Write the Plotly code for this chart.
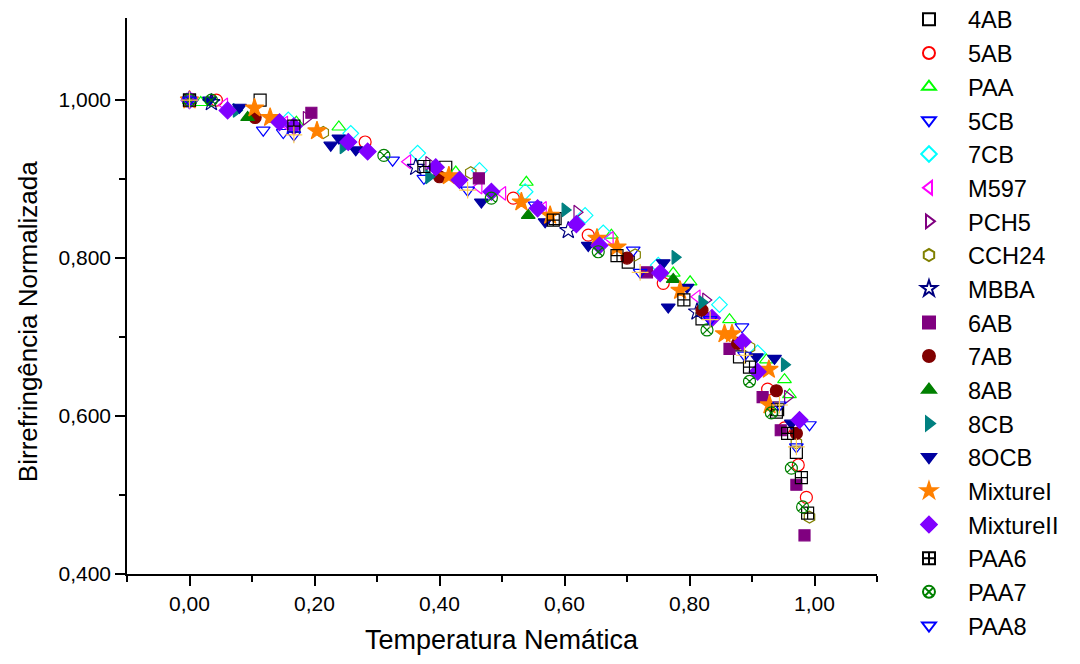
import plotly.graph_objects as go

# ---------------- data ----------------
names = ["4AB", "5AB", "PAA", "5CB", "7CB", "M597", "PCH5", "CCH24", "MBBA",
         "6AB", "7AB", "8AB", "8CB", "8OCB", "MixtureI", "MixtureII",
         "PAA6", "PAA7", "PAA8"]

x_4AB = [0.0, 0.113, 0.410, 0.585, 0.702, 0.820, 0.880, 0.939, 0.971]
y_4AB = [1.0, 1.000, 0.915, 0.850, 0.795, 0.723, 0.675, 0.605, 0.554]

x_5AB = [0.0, 0.043, 0.281, 0.518, 0.638, 0.758, 0.925, 0.952, 0.974, 0.987]
y_5AB = [1.0, 1.000, 0.947, 0.876, 0.829, 0.768, 0.634, 0.585, 0.538, 0.497]

x_PAA = [0.0, 0.018, 0.171, 0.239, 0.426, 0.539, 0.675, 0.774, 0.801, 0.864, 0.923, 0.952, 0.960]
y_PAA = [1.0, 0.997, 0.972, 0.966, 0.909, 0.896, 0.829, 0.781, 0.770, 0.722, 0.671, 0.646, 0.627]

x_5CB = [0.0, 0.118, 0.150, 0.325, 0.375, 0.553, 0.710, 0.884, 0.992]
y_5CB = [1.0, 0.962, 0.959, 0.924, 0.901, 0.867, 0.810, 0.713, 0.589]

x_7CB = [0.0, 0.158, 0.258, 0.365, 0.464, 0.537, 0.633, 0.662, 0.750, 0.848, 0.909]
y_7CB = [1.0, 0.975, 0.958, 0.933, 0.911, 0.884, 0.854, 0.832, 0.791, 0.741, 0.680]

x_M597 = [0.0, 0.056, 0.152, 0.349, 0.463, 0.501, 0.566, 0.673, 0.812]
y_M597 = [1.0, 0.994, 0.971, 0.922, 0.890, 0.882, 0.863, 0.825, 0.751]

x_PCH5 = [0.0, 0.187, 0.383, 0.620, 0.826, 0.957]
y_PCH5 = [1.0, 0.977, 0.920, 0.858, 0.747, 0.624]

x_CCH24 = [0.0, 0.214, 0.450, 0.713, 0.896, 0.971, 0.992]
y_CCH24 = [1.0, 0.959, 0.908, 0.804, 0.687, 0.566, 0.472]

x_MBBA = [0.0, 0.035, 0.362, 0.606, 0.812]
y_MBBA = [1.0, 0.997, 0.915, 0.835, 0.732]

x_6AB = [0.0, 0.195, 0.463, 0.732, 0.864, 0.917, 0.946, 0.971, 0.984]
y_6AB = [1.0, 0.984, 0.901, 0.782, 0.685, 0.624, 0.582, 0.513, 0.449]

x_7AB = [0.0, 0.105, 0.400, 0.700, 0.820, 0.877, 0.939, 0.971]
y_7AB = [1.0, 0.978, 0.903, 0.800, 0.734, 0.692, 0.632, 0.578]

x_8AB = [0.0, 0.093, 0.542, 0.774]
y_8AB = [1.0, 0.978, 0.854, 0.773]

x_8CB = [0.0, 0.075, 0.246, 0.383, 0.601, 0.777, 0.820, 0.952]
y_8CB = [1.0, 0.987, 0.941, 0.903, 0.861, 0.801, 0.744, 0.665]

x_8OCB = [0.032, 0.080, 0.226, 0.239, 0.266, 0.467, 0.569, 0.638, 0.758, 0.766, 0.796, 0.907, 0.936, 0.963]
y_8OCB = [1.000, 0.991, 0.943, 0.952, 0.937, 0.871, 0.846, 0.816, 0.794, 0.738, 0.763, 0.675, 0.673, 0.591]

x_MixtureI = [0.0, 0.104, 0.129, 0.204, 0.415, 0.531, 0.577, 0.652, 0.684, 0.785, 0.856, 0.868, 0.927, 0.928]
y_MixtureI = [1.0, 0.990, 0.978, 0.961, 0.904, 0.871, 0.854, 0.825, 0.814, 0.759, 0.704, 0.704, 0.659, 0.614]

x_MixtureII = [0.0, 0.061, 0.144, 0.167, 0.254, 0.285, 0.394, 0.432, 0.483, 0.557, 0.619,
               0.656, 0.753, 0.836, 0.885, 0.909, 0.976]
y_MixtureII = [1.0, 0.987, 0.972, 0.967, 0.947, 0.935, 0.915, 0.899, 0.884, 0.863, 0.843,
               0.816, 0.781, 0.724, 0.694, 0.656, 0.595]

x_PAA6 = [0.0, 0.167, 0.375, 0.582, 0.684, 0.791, 0.896, 0.941, 0.957, 0.979, 0.989]
y_PAA6 = [1.0, 0.967, 0.916, 0.848, 0.803, 0.747, 0.662, 0.608, 0.578, 0.522, 0.477]

x_PAA7 = [0.0, 0.035, 0.311, 0.483, 0.654, 0.828, 0.896, 0.931, 0.963, 0.981]
y_PAA7 = [1.0, 1.000, 0.930, 0.876, 0.808, 0.709, 0.644, 0.604, 0.534, 0.485]

x_PAA8 = [0.0, 0.167, 0.445, 0.721, 0.833, 0.888, 0.944, 0.971]
y_PAA8 = [1.0, 0.956, 0.886, 0.782, 0.722, 0.677, 0.614, 0.561]

x_ticks = [0.0, 0.2, 0.4, 0.6, 0.8, 1.0]
y_ticks = [0.4, 0.6, 0.8, 1.0]
x_minor = [-0.1, 0.1, 0.3, 0.5, 0.7, 0.9, 1.1]
y_minor = [0.5, 0.7, 0.9]

x_title = "Temperatura Nemática"
y_title = "Birrefringência Normalizada"

xs = [x_4AB, x_5AB, x_PAA, x_5CB, x_7CB, x_M597, x_PCH5, x_CCH24, x_MBBA,
      x_6AB, x_7AB, x_8AB, x_8CB, x_8OCB, x_MixtureI, x_MixtureII,
      x_PAA6, x_PAA7, x_PAA8]
ys = [y_4AB, y_5AB, y_PAA, y_5CB, y_7CB, y_M597, y_PCH5, y_CCH24, y_MBBA,
      y_6AB, y_7AB, y_8AB, y_8CB, y_8OCB, y_MixtureI, y_MixtureII,
      y_PAA6, y_PAA7, y_PAA8]

# ---------------- styles ----------------
symbols = ["square-open", "circle-open", "triangle-up-open", "triangle-down-open",
           "diamond-open", "triangle-left-open", "triangle-right-open", "hexagon-open",
           "star-open", "square", "circle", "triangle-up", "triangle-right",
           "triangle-down", "star", "diamond", "square-cross-open", "circle-x-open",
           "triangle-down-open"]
colors = ["#000000", "#FF0000", "#00FF00", "#0000FF", "#00FFFF", "#FF00FF",
          "#800080", "#808000", "#000080", "#800080", "#800000", "#008000",
          "#008080", "#0000A0", "#FF8000", "#8000FF", "#000000", "#008000",
          "#0000FF"]
sizes = [12, 12, 12, 12, 12, 12, 12, 12, 13, 11, 12, 12, 12, 12, 14, 13, 12, 12, 12]

FONT = "Arial, Liberation Sans, sans-serif"

fig = go.Figure()
for i, nm in enumerate(names):
    fig.add_trace(go.Scatter(
        x=xs[i], y=ys[i], mode="markers", name=nm,
        marker=dict(symbol=symbols[i], size=sizes[i], color=colors[i],
                    line=dict(width=1.2, color=colors[i])),
    ))
# cross inside the PAA8 symbol
fig.add_trace(go.Scatter(
    x=x_PAA8, y=y_PAA8, mode="markers", showlegend=False, hoverinfo="skip",
    marker=dict(symbol="cross-thin-open", size=12, line=dict(width=1.2, color="#0000FF")),
))

fig.update_layout(
    width=1080, height=664,
    paper_bgcolor="white", plot_bgcolor="white",
    margin=dict(l=127, r=203, t=18, b=90, autoexpand=False),
    separators=",.",
    font=dict(family=FONT, color="black"),
    showlegend=True,
    legend=dict(
        x=1.0173, xanchor="left",
        y=1.037, yanchor="top",
        font=dict(size=23.6, family=FONT, color="black"),
        itemwidth=68, bgcolor="rgba(0,0,0,0)",
        itemsizing="constant", maxheight=660,
    ),
    annotations=[
        dict(text=x_title, xref="paper", yref="paper", x=0.5, y=-0.119,
             showarrow=False, xanchor="center", yanchor="middle",
             font=dict(size=27, family=FONT, color="black")),
        dict(text=y_title, xref="paper", yref="paper", x=-0.132, y=0.453,
             showarrow=False, xanchor="center", yanchor="middle", textangle=-90,
             font=dict(size=26, family=FONT, color="black")),
    ],
)
fig.update_xaxes(
    range=[-0.1, 1.1], showgrid=False, zeroline=False,
    showline=True, linecolor="black", linewidth=1.5,
    ticks="outside", ticklen=10, tickwidth=1.5, tickcolor="black",
    tickvals=x_ticks, tickformat=".2f",
    tickfont=dict(size=21, family=FONT),
    minor=dict(tickvals=x_minor, ticks="outside", ticklen=6, tickwidth=1.5, tickcolor="black"),
)
fig.update_yaxes(
    range=[0.4, 1.104], showgrid=False, zeroline=False,
    showline=True, linecolor="black", linewidth=1.5,
    ticks="outside", ticklen=10, tickwidth=1.5, tickcolor="black",
    tickvals=y_ticks, tickformat=".3f",
    tickfont=dict(size=21, family=FONT),
    minor=dict(tickvals=y_minor, ticks="outside", ticklen=6, tickwidth=1.5, tickcolor="black"),
)

fig.write_html("out.html")
